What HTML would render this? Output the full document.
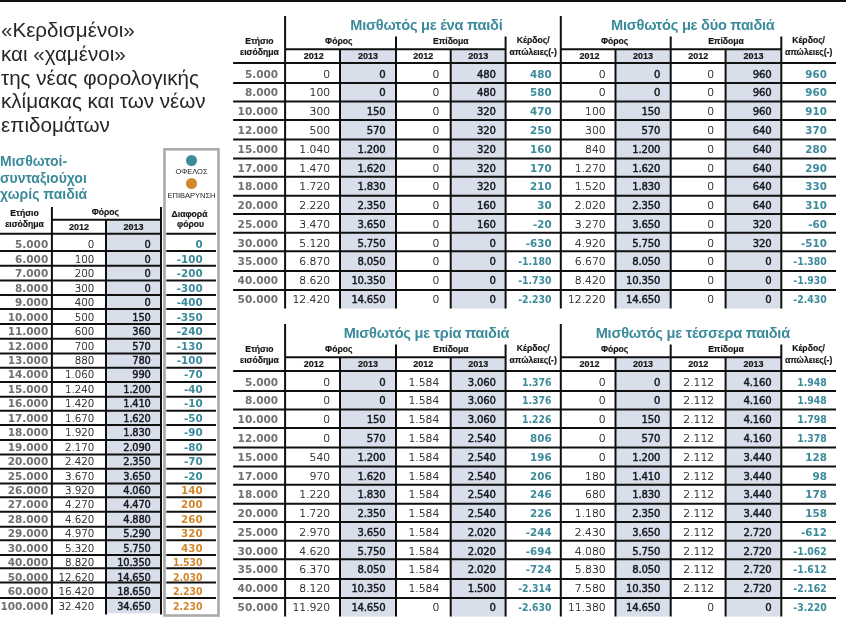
<!DOCTYPE html>
<html lang="el">
<head>
<meta charset="utf-8">
<title>«Κερδισμένοι» και «χαμένοι» της νέας φορολογικής κλίμακας</title>
<style>
html,body{margin:0;padding:0;background:#fff}
body{width:846px;height:623px;position:relative;overflow:hidden;font-family:"Liberation Sans","DejaVu Sans",sans-serif;color:#222}
.l{position:absolute;background:#101010}
.gfx{position:absolute;left:0;top:0}
.dot{position:absolute;width:11px;height:11px;border-radius:50%}
.t{position:absolute;white-space:nowrap;height:14px;line-height:14px;font-size:11px}
.c{width:200px;text-align:center}
.i{font-family:"DejaVu Sans","Liberation Sans",sans-serif;font-weight:700;font-size:10.5px;color:#707070}
.b{font-family:"DejaVu Sans","Liberation Sans",sans-serif;font-weight:400;font-size:9.9px;color:#15181f;-webkit-text-stroke:0.45px #15181f;letter-spacing:-0.2px}
.g{font-family:"DejaVu Sans Condensed","DejaVu Sans","Liberation Sans",sans-serif;font-weight:700;font-size:10.4px;color:#3b8b9b}
.o{font-family:"DejaVu Sans Condensed","DejaVu Sans","Liberation Sans",sans-serif;font-weight:700;font-size:10.4px;color:#d3872d}
.n{font-family:"DejaVu Sans Light","DejaVu Sans","Liberation Sans",sans-serif;font-weight:400;font-size:10.8px;color:#000;-webkit-text-stroke:0.2px #000}
.h{font-weight:700;font-size:8.6px;color:#161616;-webkit-text-stroke:0.2px #161616}
.d{font-size:9px}
.lg{font-size:7.5px;color:#1c1c1c}
.tt{font-weight:700;font-size:14.6px;letter-spacing:-0.25px;color:#3b8b9b;height:18px;line-height:18px}
.B{font-size:10.1px}
.N{font-size:10.3px}
.W{font-family:"DejaVu Sans","Liberation Sans",sans-serif;font-size:10.3px}
.hl{position:absolute;left:1px;top:18.2px;font-size:20.6px;line-height:23.7px;color:#262626;white-space:nowrap}
.sub{position:absolute;left:0px;top:153px;font-weight:700;font-size:14px;line-height:16.6px;color:#3b8b9b;white-space:nowrap}
</style>
</head>
<body>
<div class="l" style="left:0;top:0;width:846px;height:2px"></div>
<svg class="gfx" width="846" height="623" viewBox="0 0 846 623"><g fill="#d9dfea"><rect x="106" y="219.8" width="55" height="393.5"/><rect x="340" y="49.2" width="56" height="259.4"/><rect x="450.7" y="49.2" width="54.9" height="259.4"/><rect x="615.5" y="49.2" width="55.2" height="259.4"/><rect x="725.6" y="49.2" width="55.7" height="259.4"/><rect x="340" y="357.2" width="56" height="259.4"/><rect x="450.7" y="357.2" width="54.9" height="259.4"/><rect x="615.5" y="357.2" width="55.2" height="259.4"/><rect x="725.6" y="357.2" width="55.7" height="259.4"/></g><rect x="164.5" y="149.3" width="54" height="466.2" fill="none" stroke="#a9abab" stroke-width="2.6"/><path fill="none" stroke="#101010" stroke-width="2.0" d="M51.9 219.8H161M0 233.8H161M166.3 233.8H216M0 250.9H161M166.3 250.9H216M0 265.7H161M166.3 265.7H216M0 280.6H161M166.3 280.6H216M0 295H161M166.3 295H216M0 309H161M166.3 309H216M0 324H161M166.3 324H216M0 338.8H161M166.3 338.8H216M0 353.5H161M166.3 353.5H216M0 367.7H161M166.3 367.7H216M0 382.1H161M166.3 382.1H216M0 396.7H161M166.3 396.7H216M0 410.8H161M166.3 410.8H216M0 425H161M166.3 425H216M0 440H161M166.3 440H216M0 454.4H161M166.3 454.4H216M0 468.8H161M166.3 468.8H216M0 483.6H161M166.3 483.6H216M0 497.2H161M166.3 497.2H216M0 511.8H161M166.3 511.8H216M0 526.7H161M166.3 526.7H216M0 540.3H161M166.3 540.3H216M0 555H161M166.3 555H216M0 568.2H161M166.3 568.2H216M0 582.6H161M166.3 582.6H216M0 598H161M166.3 598H216M51.9 207.1V614.5M106 219.8V614.5M161 207.1V614.5M285.1 49.2H505.6M285.1 16V308.6M340 49.2V308.6M396 36.4V308.6M450.7 49.2V308.6M505.6 36.4V308.6M560.8 49.2H781.3M560.8 16V308.6M615.5 49.2V308.6M670.7 36.4V308.6M725.6 49.2V308.6M781.3 36.4V308.6M233.1 63.05H836M233.1 82.9H836M233.1 101.4H836M233.1 120H836M233.1 139.4H836M233.1 158.4H836M233.1 176.8H836M233.1 195.8H836M233.1 214.1H836M233.1 232.7H836M233.1 251.2H836M233.1 271H836M233.1 289.9H836M285.1 357.2H505.6M285.1 324V616.6M340 357.2V616.6M396 344.4V616.6M450.7 357.2V616.6M505.6 344.4V616.6M560.8 357.2H781.3M560.8 324V616.6M615.5 357.2V616.6M670.7 344.4V616.6M725.6 357.2V616.6M781.3 344.4V616.6M233.1 371.05H836M233.1 390.9H836M233.1 409.4H836M233.1 428H836M233.1 447.4H836M233.1 466.4H836M233.1 484.8H836M233.1 503.8H836M233.1 522.1H836M233.1 540.7H836M233.1 559.2H836M233.1 579H836M233.1 597.9H836"/></svg>
<div class="hl">«Κερδισμένοι»<br>και «χαμένοι»<br>της νέας φορολογικής<br>κλίμακας και των νέων<br>επιδομάτων</div>
<div class="sub">Μισθωτοί-<br>συνταξιούχοι<br>χωρίς παιδιά</div>
<div class="t c h" style="left:-75.50px;top:206.20px;">Ετήσιο</div>
<div class="t c h" style="left:-75.50px;top:216.80px;">εισόδημα</div>
<div class="t c h" style="left:5.30px;top:205.40px;">Φόρος</div>
<div class="t c h d" style="left:-21.00px;top:220.00px;">2012</div>
<div class="t c h d" style="left:33.50px;top:220.00px;">2013</div>
<div class="t c h" style="left:89.50px;top:207.00px;">Διαφορά</div>
<div class="t c h" style="left:90.50px;top:217.30px;">φόρου</div>
<div class="dot" style="left:185.90px;top:154.90px;background:#3b8b9b"></div>
<div class="t c lg" style="left:91.50px;top:165.00px;">ΟΦΕΛΟΣ</div>
<div class="dot" style="left:185.90px;top:177.50px;background:#d3872d"></div>
<div class="t c lg" style="left:91.50px;top:189.00px;">ΕΠΙΒΑΡΥΝΣΗ</div>
<div class="t i" style="right:797.8px;top:237px">5.000</div>
<div class="t n N" style="right:751.6px;top:237px">0</div>
<div class="t b" style="right:695.4px;top:238px">0</div>
<div class="t g W" style="right:643.4px;top:237px">0</div>
<div class="t i" style="right:797.8px;top:252px">6.000</div>
<div class="t n N" style="right:751.6px;top:252px">100</div>
<div class="t b" style="right:695.4px;top:253px">0</div>
<div class="t g W" style="right:643.4px;top:252px">-100</div>
<div class="t i" style="right:797.8px;top:266px">7.000</div>
<div class="t n N" style="right:751.6px;top:266px">200</div>
<div class="t b" style="right:695.4px;top:267px">0</div>
<div class="t g W" style="right:643.4px;top:266px">-200</div>
<div class="t i" style="right:797.8px;top:281px">8.000</div>
<div class="t n N" style="right:751.6px;top:281px">300</div>
<div class="t b" style="right:695.4px;top:282px">0</div>
<div class="t g W" style="right:643.4px;top:281px">-300</div>
<div class="t i" style="right:797.8px;top:295px">9.000</div>
<div class="t n N" style="right:751.6px;top:295px">400</div>
<div class="t b" style="right:695.4px;top:296px">0</div>
<div class="t g W" style="right:643.4px;top:295px">-400</div>
<div class="t i" style="right:797.8px;top:310px">10.000</div>
<div class="t n N" style="right:751.6px;top:310px">500</div>
<div class="t b" style="right:695.4px;top:311px">150</div>
<div class="t g W" style="right:643.4px;top:310px">-350</div>
<div class="t i" style="right:797.8px;top:324px">11.000</div>
<div class="t n N" style="right:751.6px;top:324px">600</div>
<div class="t b" style="right:695.4px;top:325px">360</div>
<div class="t g W" style="right:643.4px;top:324px">-240</div>
<div class="t i" style="right:797.8px;top:339px">12.000</div>
<div class="t n N" style="right:751.6px;top:339px">700</div>
<div class="t b" style="right:695.4px;top:340px">570</div>
<div class="t g W" style="right:643.4px;top:339px">-130</div>
<div class="t i" style="right:797.8px;top:353px">13.000</div>
<div class="t n N" style="right:751.6px;top:353px">880</div>
<div class="t b" style="right:695.4px;top:354px">780</div>
<div class="t g W" style="right:643.4px;top:353px">-100</div>
<div class="t i" style="right:797.8px;top:367px">14.000</div>
<div class="t n N" style="right:751.6px;top:367px">1.060</div>
<div class="t b" style="right:695.4px;top:368px">990</div>
<div class="t g W" style="right:643.4px;top:367px">-70</div>
<div class="t i" style="right:797.8px;top:382px">15.000</div>
<div class="t n N" style="right:751.6px;top:382px">1.240</div>
<div class="t b" style="right:695.4px;top:383px">1.200</div>
<div class="t g W" style="right:643.4px;top:382px">-40</div>
<div class="t i" style="right:797.8px;top:396px">16.000</div>
<div class="t n N" style="right:751.6px;top:396px">1.420</div>
<div class="t b" style="right:695.4px;top:397px">1.410</div>
<div class="t g W" style="right:643.4px;top:396px">-10</div>
<div class="t i" style="right:797.8px;top:411px">17.000</div>
<div class="t n N" style="right:751.6px;top:411px">1.670</div>
<div class="t b" style="right:695.4px;top:412px">1.620</div>
<div class="t g W" style="right:643.4px;top:411px">-50</div>
<div class="t i" style="right:797.8px;top:425px">18.000</div>
<div class="t n N" style="right:751.6px;top:425px">1.920</div>
<div class="t b" style="right:695.4px;top:426px">1.830</div>
<div class="t g W" style="right:643.4px;top:425px">-90</div>
<div class="t i" style="right:797.8px;top:440px">19.000</div>
<div class="t n N" style="right:751.6px;top:440px">2.170</div>
<div class="t b" style="right:695.4px;top:441px">2.090</div>
<div class="t g W" style="right:643.4px;top:440px">-80</div>
<div class="t i" style="right:797.8px;top:454px">20.000</div>
<div class="t n N" style="right:751.6px;top:454px">2.420</div>
<div class="t b" style="right:695.4px;top:455px">2.350</div>
<div class="t g W" style="right:643.4px;top:454px">-70</div>
<div class="t i" style="right:797.8px;top:469px">25.000</div>
<div class="t n N" style="right:751.6px;top:469px">3.670</div>
<div class="t b" style="right:695.4px;top:470px">3.650</div>
<div class="t g W" style="right:643.4px;top:469px">-20</div>
<div class="t i" style="right:797.8px;top:483px">26.000</div>
<div class="t n N" style="right:751.6px;top:483px">3.920</div>
<div class="t b" style="right:695.4px;top:484px">4.060</div>
<div class="t o W" style="right:643.4px;top:483px">140</div>
<div class="t i" style="right:797.8px;top:497px">27.000</div>
<div class="t n N" style="right:751.6px;top:497px">4.270</div>
<div class="t b" style="right:695.4px;top:498px">4.470</div>
<div class="t o W" style="right:643.4px;top:497px">200</div>
<div class="t i" style="right:797.8px;top:512px">28.000</div>
<div class="t n N" style="right:751.6px;top:512px">4.620</div>
<div class="t b" style="right:695.4px;top:513px">4.880</div>
<div class="t o W" style="right:643.4px;top:512px">260</div>
<div class="t i" style="right:797.8px;top:526px">29.000</div>
<div class="t n N" style="right:751.6px;top:526px">4.970</div>
<div class="t b" style="right:695.4px;top:527px">5.290</div>
<div class="t o W" style="right:643.4px;top:526px">320</div>
<div class="t i" style="right:797.8px;top:541px">30.000</div>
<div class="t n N" style="right:751.6px;top:541px">5.320</div>
<div class="t b" style="right:695.4px;top:542px">5.750</div>
<div class="t o W" style="right:643.4px;top:541px">430</div>
<div class="t i" style="right:797.8px;top:555px">40.000</div>
<div class="t n N" style="right:751.6px;top:555px">8.820</div>
<div class="t b" style="right:695.4px;top:556px">10.350</div>
<div class="t o" style="right:643.4px;top:555px">1.530</div>
<div class="t i" style="right:797.8px;top:570px">50.000</div>
<div class="t n N" style="right:751.6px;top:570px">12.620</div>
<div class="t b" style="right:695.4px;top:571px">14.650</div>
<div class="t o" style="right:643.4px;top:570px">2.030</div>
<div class="t i" style="right:797.8px;top:584px">60.000</div>
<div class="t n N" style="right:751.6px;top:584px">16.420</div>
<div class="t b" style="right:695.4px;top:585px">18.650</div>
<div class="t o" style="right:643.4px;top:584px">2.230</div>
<div class="t i" style="right:797.8px;top:599px">100.000</div>
<div class="t n N" style="right:751.6px;top:599px">32.420</div>
<div class="t b" style="right:695.4px;top:600px">34.650</div>
<div class="t o" style="right:643.4px;top:599px">2.230</div>
<div class="t c tt" style="left:326.40px;top:16.00px;">Μισθωτός με ένα παιδί</div>
<div class="t c h" style="left:238.75px;top:33.80px;">Φόρος</div>
<div class="t c h" style="left:350.80px;top:33.80px;">Επίδομα</div>
<div class="t c h" style="left:433.20px;top:33.30px;">Κέρδος/</div>
<div class="t c h" style="left:433.20px;top:44.60px;">απώλειες(-)</div>
<div class="t c h d" style="left:213.85px;top:49.40px;">2012</div>
<div class="t c h d" style="left:268.00px;top:49.40px;">2013</div>
<div class="t c h d" style="left:323.35px;top:49.40px;">2012</div>
<div class="t c h d" style="left:378.15px;top:49.40px;">2013</div>
<div class="t i" style="right:567.9px;top:67px">5.000</div>
<div class="t n" style="right:515.8px;top:68px">0</div>
<div class="t b B" style="right:460.5px;top:68px">0</div>
<div class="t n" style="right:406.7px;top:68px">0</div>
<div class="t b B" style="right:350.3px;top:68px">480</div>
<div class="t g W" style="right:294.4px;top:67px">480</div>
<div class="t i" style="right:567.9px;top:85px">8.000</div>
<div class="t n" style="right:515.8px;top:86px">100</div>
<div class="t b B" style="right:460.5px;top:86px">0</div>
<div class="t n" style="right:406.7px;top:86px">0</div>
<div class="t b B" style="right:350.3px;top:86px">480</div>
<div class="t g W" style="right:294.4px;top:85px">580</div>
<div class="t i" style="right:567.9px;top:104px">10.000</div>
<div class="t n" style="right:515.8px;top:105px">300</div>
<div class="t b B" style="right:460.5px;top:105px">150</div>
<div class="t n" style="right:406.7px;top:105px">0</div>
<div class="t b B" style="right:350.3px;top:105px">320</div>
<div class="t g W" style="right:294.4px;top:104px">470</div>
<div class="t i" style="right:567.9px;top:123px">12.000</div>
<div class="t n" style="right:515.8px;top:124px">500</div>
<div class="t b B" style="right:460.5px;top:124px">570</div>
<div class="t n" style="right:406.7px;top:124px">0</div>
<div class="t b B" style="right:350.3px;top:124px">320</div>
<div class="t g W" style="right:294.4px;top:123px">250</div>
<div class="t i" style="right:567.9px;top:142px">15.000</div>
<div class="t n" style="right:515.8px;top:143px">1.040</div>
<div class="t b B" style="right:460.5px;top:143px">1.200</div>
<div class="t n" style="right:406.7px;top:143px">0</div>
<div class="t b B" style="right:350.3px;top:143px">320</div>
<div class="t g W" style="right:294.4px;top:142px">160</div>
<div class="t i" style="right:567.9px;top:161px">17.000</div>
<div class="t n" style="right:515.8px;top:162px">1.470</div>
<div class="t b B" style="right:460.5px;top:162px">1.620</div>
<div class="t n" style="right:406.7px;top:162px">0</div>
<div class="t b B" style="right:350.3px;top:162px">320</div>
<div class="t g W" style="right:294.4px;top:161px">170</div>
<div class="t i" style="right:567.9px;top:179px">18.000</div>
<div class="t n" style="right:515.8px;top:180px">1.720</div>
<div class="t b B" style="right:460.5px;top:180px">1.830</div>
<div class="t n" style="right:406.7px;top:180px">0</div>
<div class="t b B" style="right:350.3px;top:180px">320</div>
<div class="t g W" style="right:294.4px;top:179px">210</div>
<div class="t i" style="right:567.9px;top:198px">20.000</div>
<div class="t n" style="right:515.8px;top:199px">2.220</div>
<div class="t b B" style="right:460.5px;top:199px">2.350</div>
<div class="t n" style="right:406.7px;top:199px">0</div>
<div class="t b B" style="right:350.3px;top:199px">160</div>
<div class="t g W" style="right:294.4px;top:198px">30</div>
<div class="t i" style="right:567.9px;top:217px">25.000</div>
<div class="t n" style="right:515.8px;top:218px">3.470</div>
<div class="t b B" style="right:460.5px;top:218px">3.650</div>
<div class="t n" style="right:406.7px;top:218px">0</div>
<div class="t b B" style="right:350.3px;top:218px">160</div>
<div class="t g W" style="right:294.4px;top:217px">-20</div>
<div class="t i" style="right:567.9px;top:236px">30.000</div>
<div class="t n" style="right:515.8px;top:237px">5.120</div>
<div class="t b B" style="right:460.5px;top:237px">5.750</div>
<div class="t n" style="right:406.7px;top:237px">0</div>
<div class="t b B" style="right:350.3px;top:237px">0</div>
<div class="t g W" style="right:294.4px;top:236px">-630</div>
<div class="t i" style="right:567.9px;top:254px">35.000</div>
<div class="t n" style="right:515.8px;top:255px">6.870</div>
<div class="t b B" style="right:460.5px;top:255px">8.050</div>
<div class="t n" style="right:406.7px;top:255px">0</div>
<div class="t b B" style="right:350.3px;top:255px">0</div>
<div class="t g" style="right:294.4px;top:254px">-1.180</div>
<div class="t i" style="right:567.9px;top:273px">40.000</div>
<div class="t n" style="right:515.8px;top:274px">8.620</div>
<div class="t b B" style="right:460.5px;top:274px">10.350</div>
<div class="t n" style="right:406.7px;top:274px">0</div>
<div class="t b B" style="right:350.3px;top:274px">0</div>
<div class="t g" style="right:294.4px;top:273px">-1.730</div>
<div class="t i" style="right:567.9px;top:292px">50.000</div>
<div class="t n" style="right:515.8px;top:293px">12.420</div>
<div class="t b B" style="right:460.5px;top:293px">14.650</div>
<div class="t n" style="right:406.7px;top:293px">0</div>
<div class="t b B" style="right:350.3px;top:293px">0</div>
<div class="t g" style="right:294.4px;top:292px">-2.230</div>
<div class="t c tt" style="left:592.80px;top:16.00px;">Μισθωτός με δύο παιδιά</div>
<div class="t c h" style="left:514.65px;top:33.80px;">Φόρος</div>
<div class="t c h" style="left:626.00px;top:33.80px;">Επίδομα</div>
<div class="t c h" style="left:708.65px;top:33.30px;">Κέρδος/</div>
<div class="t c h" style="left:708.65px;top:44.60px;">απώλειες(-)</div>
<div class="t c h d" style="left:489.45px;top:49.40px;">2012</div>
<div class="t c h d" style="left:543.10px;top:49.40px;">2013</div>
<div class="t c h d" style="left:598.15px;top:49.40px;">2012</div>
<div class="t c h d" style="left:653.45px;top:49.40px;">2013</div>
<div class="t n" style="right:240.3px;top:68px">0</div>
<div class="t b B" style="right:185.8px;top:68px">0</div>
<div class="t n" style="right:131.8px;top:68px">0</div>
<div class="t b B" style="right:74.6px;top:68px">960</div>
<div class="t g W" style="right:19.2px;top:67px">960</div>
<div class="t n" style="right:240.3px;top:86px">0</div>
<div class="t b B" style="right:185.8px;top:86px">0</div>
<div class="t n" style="right:131.8px;top:86px">0</div>
<div class="t b B" style="right:74.6px;top:86px">960</div>
<div class="t g W" style="right:19.2px;top:85px">960</div>
<div class="t n" style="right:240.3px;top:105px">100</div>
<div class="t b B" style="right:185.8px;top:105px">150</div>
<div class="t n" style="right:131.8px;top:105px">0</div>
<div class="t b B" style="right:74.6px;top:105px">960</div>
<div class="t g W" style="right:19.2px;top:104px">910</div>
<div class="t n" style="right:240.3px;top:124px">300</div>
<div class="t b B" style="right:185.8px;top:124px">570</div>
<div class="t n" style="right:131.8px;top:124px">0</div>
<div class="t b B" style="right:74.6px;top:124px">640</div>
<div class="t g W" style="right:19.2px;top:123px">370</div>
<div class="t n" style="right:240.3px;top:143px">840</div>
<div class="t b B" style="right:185.8px;top:143px">1.200</div>
<div class="t n" style="right:131.8px;top:143px">0</div>
<div class="t b B" style="right:74.6px;top:143px">640</div>
<div class="t g W" style="right:19.2px;top:142px">280</div>
<div class="t n" style="right:240.3px;top:162px">1.270</div>
<div class="t b B" style="right:185.8px;top:162px">1.620</div>
<div class="t n" style="right:131.8px;top:162px">0</div>
<div class="t b B" style="right:74.6px;top:162px">640</div>
<div class="t g W" style="right:19.2px;top:161px">290</div>
<div class="t n" style="right:240.3px;top:180px">1.520</div>
<div class="t b B" style="right:185.8px;top:180px">1.830</div>
<div class="t n" style="right:131.8px;top:180px">0</div>
<div class="t b B" style="right:74.6px;top:180px">640</div>
<div class="t g W" style="right:19.2px;top:179px">330</div>
<div class="t n" style="right:240.3px;top:199px">2.020</div>
<div class="t b B" style="right:185.8px;top:199px">2.350</div>
<div class="t n" style="right:131.8px;top:199px">0</div>
<div class="t b B" style="right:74.6px;top:199px">640</div>
<div class="t g W" style="right:19.2px;top:198px">310</div>
<div class="t n" style="right:240.3px;top:218px">3.270</div>
<div class="t b B" style="right:185.8px;top:218px">3.650</div>
<div class="t n" style="right:131.8px;top:218px">0</div>
<div class="t b B" style="right:74.6px;top:218px">320</div>
<div class="t g W" style="right:19.2px;top:217px">-60</div>
<div class="t n" style="right:240.3px;top:237px">4.920</div>
<div class="t b B" style="right:185.8px;top:237px">5.750</div>
<div class="t n" style="right:131.8px;top:237px">0</div>
<div class="t b B" style="right:74.6px;top:237px">320</div>
<div class="t g W" style="right:19.2px;top:236px">-510</div>
<div class="t n" style="right:240.3px;top:255px">6.670</div>
<div class="t b B" style="right:185.8px;top:255px">8.050</div>
<div class="t n" style="right:131.8px;top:255px">0</div>
<div class="t b B" style="right:74.6px;top:255px">0</div>
<div class="t g" style="right:19.2px;top:254px">-1.380</div>
<div class="t n" style="right:240.3px;top:274px">8.420</div>
<div class="t b B" style="right:185.8px;top:274px">10.350</div>
<div class="t n" style="right:131.8px;top:274px">0</div>
<div class="t b B" style="right:74.6px;top:274px">0</div>
<div class="t g" style="right:19.2px;top:273px">-1.930</div>
<div class="t n" style="right:240.3px;top:293px">12.220</div>
<div class="t b B" style="right:185.8px;top:293px">14.650</div>
<div class="t n" style="right:131.8px;top:293px">0</div>
<div class="t b B" style="right:74.6px;top:293px">0</div>
<div class="t g" style="right:19.2px;top:292px">-2.430</div>
<div class="t h c" style="left:159.40px;top:33.70px">Ετήσιο</div>
<div class="t h c" style="left:159.40px;top:44.90px">εισόδημα</div>
<div class="t c tt" style="left:326.40px;top:324.00px;">Μισθωτός με τρία παιδιά</div>
<div class="t c h" style="left:238.75px;top:341.80px;">Φόρος</div>
<div class="t c h" style="left:350.80px;top:341.80px;">Επίδομα</div>
<div class="t c h" style="left:433.20px;top:341.30px;">Κέρδος/</div>
<div class="t c h" style="left:433.20px;top:352.60px;">απώλειες(-)</div>
<div class="t c h d" style="left:213.85px;top:357.40px;">2012</div>
<div class="t c h d" style="left:268.00px;top:357.40px;">2013</div>
<div class="t c h d" style="left:323.35px;top:357.40px;">2012</div>
<div class="t c h d" style="left:378.15px;top:357.40px;">2013</div>
<div class="t i" style="right:567.9px;top:375px">5.000</div>
<div class="t n" style="right:515.8px;top:376px">0</div>
<div class="t b B" style="right:460.5px;top:376px">0</div>
<div class="t n" style="right:406.7px;top:376px">1.584</div>
<div class="t b B" style="right:350.3px;top:376px">3.060</div>
<div class="t g" style="right:294.4px;top:375px">1.376</div>
<div class="t i" style="right:567.9px;top:393px">8.000</div>
<div class="t n" style="right:515.8px;top:394px">0</div>
<div class="t b B" style="right:460.5px;top:394px">0</div>
<div class="t n" style="right:406.7px;top:394px">1.584</div>
<div class="t b B" style="right:350.3px;top:394px">3.060</div>
<div class="t g" style="right:294.4px;top:393px">1.376</div>
<div class="t i" style="right:567.9px;top:412px">10.000</div>
<div class="t n" style="right:515.8px;top:413px">0</div>
<div class="t b B" style="right:460.5px;top:413px">150</div>
<div class="t n" style="right:406.7px;top:413px">1.584</div>
<div class="t b B" style="right:350.3px;top:413px">3.060</div>
<div class="t g" style="right:294.4px;top:412px">1.226</div>
<div class="t i" style="right:567.9px;top:431px">12.000</div>
<div class="t n" style="right:515.8px;top:432px">0</div>
<div class="t b B" style="right:460.5px;top:432px">570</div>
<div class="t n" style="right:406.7px;top:432px">1.584</div>
<div class="t b B" style="right:350.3px;top:432px">2.540</div>
<div class="t g W" style="right:294.4px;top:431px">806</div>
<div class="t i" style="right:567.9px;top:450px">15.000</div>
<div class="t n" style="right:515.8px;top:451px">540</div>
<div class="t b B" style="right:460.5px;top:451px">1.200</div>
<div class="t n" style="right:406.7px;top:451px">1.584</div>
<div class="t b B" style="right:350.3px;top:451px">2.540</div>
<div class="t g W" style="right:294.4px;top:450px">196</div>
<div class="t i" style="right:567.9px;top:469px">17.000</div>
<div class="t n" style="right:515.8px;top:470px">970</div>
<div class="t b B" style="right:460.5px;top:470px">1.620</div>
<div class="t n" style="right:406.7px;top:470px">1.584</div>
<div class="t b B" style="right:350.3px;top:470px">2.540</div>
<div class="t g W" style="right:294.4px;top:469px">206</div>
<div class="t i" style="right:567.9px;top:487px">18.000</div>
<div class="t n" style="right:515.8px;top:488px">1.220</div>
<div class="t b B" style="right:460.5px;top:488px">1.830</div>
<div class="t n" style="right:406.7px;top:488px">1.584</div>
<div class="t b B" style="right:350.3px;top:488px">2.540</div>
<div class="t g W" style="right:294.4px;top:487px">246</div>
<div class="t i" style="right:567.9px;top:506px">20.000</div>
<div class="t n" style="right:515.8px;top:507px">1.720</div>
<div class="t b B" style="right:460.5px;top:507px">2.350</div>
<div class="t n" style="right:406.7px;top:507px">1.584</div>
<div class="t b B" style="right:350.3px;top:507px">2.540</div>
<div class="t g W" style="right:294.4px;top:506px">226</div>
<div class="t i" style="right:567.9px;top:525px">25.000</div>
<div class="t n" style="right:515.8px;top:526px">2.970</div>
<div class="t b B" style="right:460.5px;top:526px">3.650</div>
<div class="t n" style="right:406.7px;top:526px">1.584</div>
<div class="t b B" style="right:350.3px;top:526px">2.020</div>
<div class="t g W" style="right:294.4px;top:525px">-244</div>
<div class="t i" style="right:567.9px;top:544px">30.000</div>
<div class="t n" style="right:515.8px;top:545px">4.620</div>
<div class="t b B" style="right:460.5px;top:545px">5.750</div>
<div class="t n" style="right:406.7px;top:545px">1.584</div>
<div class="t b B" style="right:350.3px;top:545px">2.020</div>
<div class="t g W" style="right:294.4px;top:544px">-694</div>
<div class="t i" style="right:567.9px;top:562px">35.000</div>
<div class="t n" style="right:515.8px;top:563px">6.370</div>
<div class="t b B" style="right:460.5px;top:563px">8.050</div>
<div class="t n" style="right:406.7px;top:563px">1.584</div>
<div class="t b B" style="right:350.3px;top:563px">2.020</div>
<div class="t g W" style="right:294.4px;top:562px">-724</div>
<div class="t i" style="right:567.9px;top:581px">40.000</div>
<div class="t n" style="right:515.8px;top:582px">8.120</div>
<div class="t b B" style="right:460.5px;top:582px">10.350</div>
<div class="t n" style="right:406.7px;top:582px">1.584</div>
<div class="t b B" style="right:350.3px;top:582px">1.500</div>
<div class="t g" style="right:294.4px;top:581px">-2.314</div>
<div class="t i" style="right:567.9px;top:600px">50.000</div>
<div class="t n" style="right:515.8px;top:601px">11.920</div>
<div class="t b B" style="right:460.5px;top:601px">14.650</div>
<div class="t n" style="right:406.7px;top:601px">0</div>
<div class="t b B" style="right:350.3px;top:601px">0</div>
<div class="t g" style="right:294.4px;top:600px">-2.630</div>
<div class="t c tt" style="left:592.80px;top:324.00px;">Μισθωτός με τέσσερα παιδιά</div>
<div class="t c h" style="left:514.65px;top:341.80px;">Φόρος</div>
<div class="t c h" style="left:626.00px;top:341.80px;">Επίδομα</div>
<div class="t c h" style="left:708.65px;top:341.30px;">Κέρδος/</div>
<div class="t c h" style="left:708.65px;top:352.60px;">απώλειες(-)</div>
<div class="t c h d" style="left:489.45px;top:357.40px;">2012</div>
<div class="t c h d" style="left:543.10px;top:357.40px;">2013</div>
<div class="t c h d" style="left:598.15px;top:357.40px;">2012</div>
<div class="t c h d" style="left:653.45px;top:357.40px;">2013</div>
<div class="t n" style="right:240.3px;top:376px">0</div>
<div class="t b B" style="right:185.8px;top:376px">0</div>
<div class="t n" style="right:131.8px;top:376px">2.112</div>
<div class="t b B" style="right:74.6px;top:376px">4.160</div>
<div class="t g" style="right:19.2px;top:375px">1.948</div>
<div class="t n" style="right:240.3px;top:394px">0</div>
<div class="t b B" style="right:185.8px;top:394px">0</div>
<div class="t n" style="right:131.8px;top:394px">2.112</div>
<div class="t b B" style="right:74.6px;top:394px">4.160</div>
<div class="t g" style="right:19.2px;top:393px">1.948</div>
<div class="t n" style="right:240.3px;top:413px">0</div>
<div class="t b B" style="right:185.8px;top:413px">150</div>
<div class="t n" style="right:131.8px;top:413px">2.112</div>
<div class="t b B" style="right:74.6px;top:413px">4.160</div>
<div class="t g" style="right:19.2px;top:412px">1.798</div>
<div class="t n" style="right:240.3px;top:432px">0</div>
<div class="t b B" style="right:185.8px;top:432px">570</div>
<div class="t n" style="right:131.8px;top:432px">2.112</div>
<div class="t b B" style="right:74.6px;top:432px">4.160</div>
<div class="t g" style="right:19.2px;top:431px">1.378</div>
<div class="t n" style="right:240.3px;top:451px">0</div>
<div class="t b B" style="right:185.8px;top:451px">1.200</div>
<div class="t n" style="right:131.8px;top:451px">2.112</div>
<div class="t b B" style="right:74.6px;top:451px">3.440</div>
<div class="t g W" style="right:19.2px;top:450px">128</div>
<div class="t n" style="right:240.3px;top:470px">180</div>
<div class="t b B" style="right:185.8px;top:470px">1.410</div>
<div class="t n" style="right:131.8px;top:470px">2.112</div>
<div class="t b B" style="right:74.6px;top:470px">3.440</div>
<div class="t g W" style="right:19.2px;top:469px">98</div>
<div class="t n" style="right:240.3px;top:488px">680</div>
<div class="t b B" style="right:185.8px;top:488px">1.830</div>
<div class="t n" style="right:131.8px;top:488px">2.112</div>
<div class="t b B" style="right:74.6px;top:488px">3.440</div>
<div class="t g W" style="right:19.2px;top:487px">178</div>
<div class="t n" style="right:240.3px;top:507px">1.180</div>
<div class="t b B" style="right:185.8px;top:507px">2.350</div>
<div class="t n" style="right:131.8px;top:507px">2.112</div>
<div class="t b B" style="right:74.6px;top:507px">3.440</div>
<div class="t g W" style="right:19.2px;top:506px">158</div>
<div class="t n" style="right:240.3px;top:526px">2.430</div>
<div class="t b B" style="right:185.8px;top:526px">3.650</div>
<div class="t n" style="right:131.8px;top:526px">2.112</div>
<div class="t b B" style="right:74.6px;top:526px">2.720</div>
<div class="t g W" style="right:19.2px;top:525px">-612</div>
<div class="t n" style="right:240.3px;top:545px">4.080</div>
<div class="t b B" style="right:185.8px;top:545px">5.750</div>
<div class="t n" style="right:131.8px;top:545px">2.112</div>
<div class="t b B" style="right:74.6px;top:545px">2.720</div>
<div class="t g" style="right:19.2px;top:544px">-1.062</div>
<div class="t n" style="right:240.3px;top:563px">5.830</div>
<div class="t b B" style="right:185.8px;top:563px">8.050</div>
<div class="t n" style="right:131.8px;top:563px">2.112</div>
<div class="t b B" style="right:74.6px;top:563px">2.720</div>
<div class="t g" style="right:19.2px;top:562px">-1.612</div>
<div class="t n" style="right:240.3px;top:582px">7.580</div>
<div class="t b B" style="right:185.8px;top:582px">10.350</div>
<div class="t n" style="right:131.8px;top:582px">2.112</div>
<div class="t b B" style="right:74.6px;top:582px">2.720</div>
<div class="t g" style="right:19.2px;top:581px">-2.162</div>
<div class="t n" style="right:240.3px;top:601px">11.380</div>
<div class="t b B" style="right:185.8px;top:601px">14.650</div>
<div class="t n" style="right:131.8px;top:601px">0</div>
<div class="t b B" style="right:74.6px;top:601px">0</div>
<div class="t g" style="right:19.2px;top:600px">-3.220</div>
<div class="t h c" style="left:159.40px;top:341.70px">Ετήσιο</div>
<div class="t h c" style="left:159.40px;top:352.90px">εισόδημα</div>
</body>
</html>
